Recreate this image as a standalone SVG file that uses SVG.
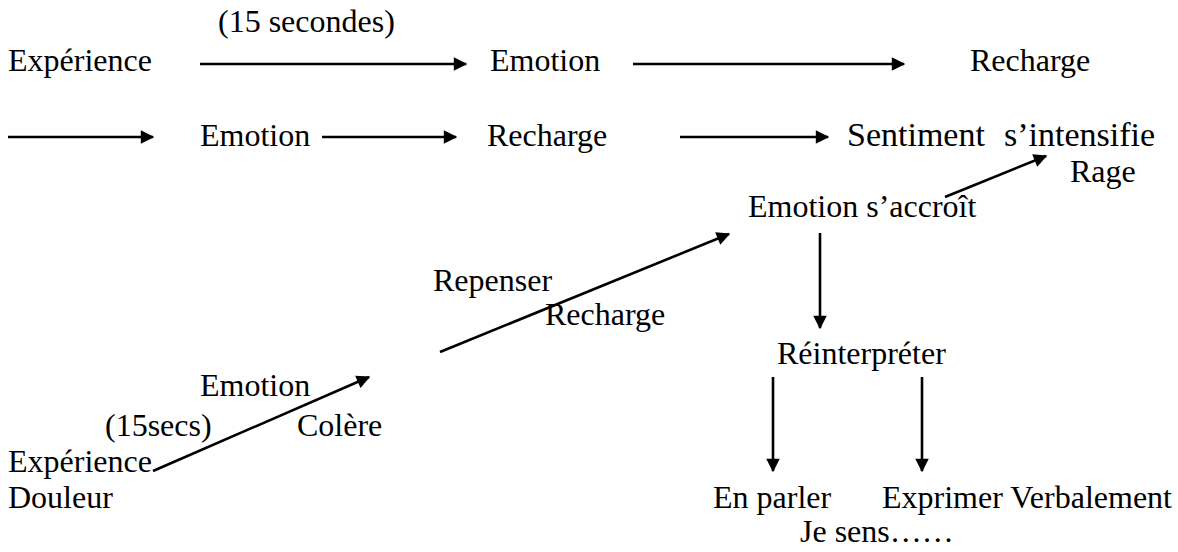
<svg xmlns="http://www.w3.org/2000/svg" width="1178" height="552" viewBox="0 0 1178 552">
<style>
text{font-family:"Liberation Serif","Times New Roman",serif;font-size:32px;fill:#000}
.c line{stroke:#000;stroke-width:2.6}
</style>
<defs>
<marker id="ah" viewBox="0 0 10 10" refX="9" refY="5" markerWidth="6.2" markerHeight="5.2" orient="auto" markerUnits="strokeWidth"><path d="M0,0L10,5L0,10z" fill="#000"/></marker>
</defs>
<rect width="1178" height="552" fill="#fff"/>
<g id="n-exp1"><text x="8" y="71">Expérience</text></g>
<g id="n-15s"><text x="218" y="32">(15 secondes)</text></g>
<g id="n-emo1"><text x="490" y="71">Emotion</text></g>
<g id="n-rech1"><text x="970" y="71">Recharge</text></g>
<g id="n-emo2"><text x="200" y="146">Emotion</text></g>
<g id="n-rech2"><text x="487" y="146">Recharge</text></g>
<g id="n-sent"><text x="847" y="146" style="font-size:34px">Sentiment<tspan x="1004">s’intensifie</tspan></text></g>
<g id="n-rage"><text x="1070" y="182">Rage</text></g>
<g id="n-acc"><text x="748" y="217">Emotion s’accroît</text></g>
<g id="n-rep"><text x="433" y="291">Repenser</text></g>
<g id="n-rech3"><text x="545" y="325">Recharge</text></g>
<g id="n-rein"><text x="777" y="364">Réinterpréter</text></g>
<g id="n-emo3"><text x="200" y="396">Emotion</text></g>
<g id="n-15secs"><text x="105" y="436">(15secs)</text></g>
<g id="n-col"><text x="297" y="436">Colère</text></g>
<g id="n-exp2"><text x="8" y="472">Expérience</text></g>
<g id="n-doul"><text x="8" y="508">Douleur</text></g>
<g id="n-parl"><text x="713" y="508">En parler</text></g>
<g id="n-expr"><text x="882" y="508">Exprimer Verbalement</text></g>
<g id="n-sens"><text x="800" y="542">Je sens……</text></g>
<g id="connectors" class="c">
<line x1="200" y1="64" x2="466" y2="64" marker-end="url(#ah)"/>
<line x1="633" y1="64" x2="904" y2="64" marker-end="url(#ah)"/>
<line x1="8" y1="137" x2="153" y2="137" marker-end="url(#ah)"/>
<line x1="322" y1="137" x2="456" y2="137" marker-end="url(#ah)"/>
<line x1="680" y1="137" x2="828" y2="137" marker-end="url(#ah)"/>
<line x1="945" y1="197" x2="1046" y2="156" marker-end="url(#ah)"/>
<line x1="440" y1="352" x2="729" y2="234" marker-end="url(#ah)"/>
<line x1="153" y1="471" x2="369" y2="377" marker-end="url(#ah)"/>
<line x1="820" y1="233" x2="820" y2="328" marker-end="url(#ah)"/>
<line x1="773" y1="377" x2="773" y2="471" marker-end="url(#ah)"/>
<line x1="922" y1="377" x2="922" y2="471" marker-end="url(#ah)"/>
</g>
</svg>
